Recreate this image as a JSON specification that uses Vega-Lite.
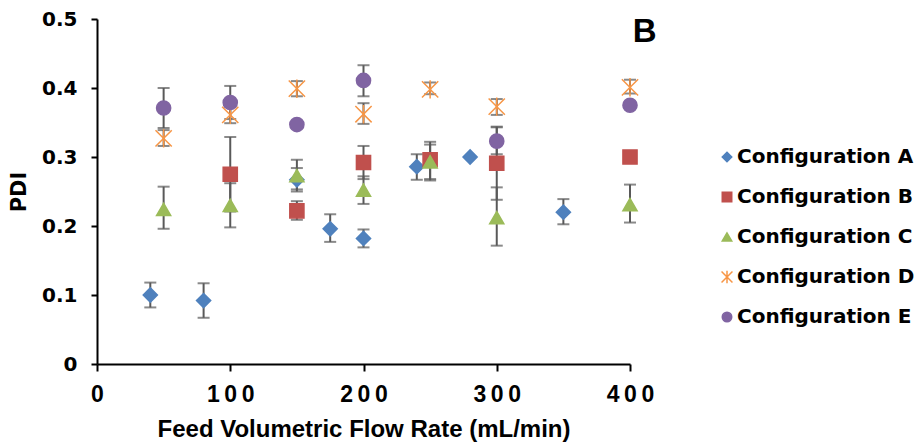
{
  "$schema": "https://vega.github.io/schema/vega-lite/v6.json",
  "autosize": "none",
  "width": 533,
  "height": 345,
  "padding": {"left": 97, "top": 19, "right": 294, "bottom": 84},
  "background": "white",
  "config": {
    "view": {"stroke": null},
    "font": "DejaVu Sans",
    "axis": {
      "grid": false,
      "labelFlush": false,
      "labelOverlap": false,
      "domainColor": "black",
      "domainWidth": 2,
      "tickColor": "black",
      "tickWidth": 2,
      "labelFont": "DejaVu Sans",
      "labelFontWeight": "bold",
      "labelFontSize": 20,
      "labelColor": "black",
      "titleFont": "DejaVu Sans",
      "titleFontWeight": "bold",
      "titleFontSize": 21,
      "titleColor": "black"
    },
    "legend": {
      "labelFont": "DejaVu Sans",
      "labelFontWeight": "bold",
      "labelFontSize": 20,
      "labelColor": "black",
      "labelLimit": 0
    }
  },
  "datasets": {
    "points": [
      {"series": "Configuration A", "x": 40, "y": 0.100},
      {"series": "Configuration A", "x": 80, "y": 0.092},
      {"series": "Configuration A", "x": 150, "y": 0.267},
      {"series": "Configuration A", "x": 175, "y": 0.196},
      {"series": "Configuration A", "x": 200, "y": 0.182},
      {"series": "Configuration A", "x": 240, "y": 0.286},
      {"series": "Configuration A", "x": 280, "y": 0.300},
      {"series": "Configuration A", "x": 350, "y": 0.220},
      {"series": "Configuration B", "x": 100, "y": 0.275},
      {"series": "Configuration B", "x": 150, "y": 0.222},
      {"series": "Configuration B", "x": 200, "y": 0.292},
      {"series": "Configuration B", "x": 250, "y": 0.296},
      {"series": "Configuration B", "x": 300, "y": 0.291},
      {"series": "Configuration B", "x": 400, "y": 0.300},
      {"series": "Configuration C", "x": 50, "y": 0.224},
      {"series": "Configuration C", "x": 100, "y": 0.230},
      {"series": "Configuration C", "x": 150, "y": 0.273},
      {"series": "Configuration C", "x": 200, "y": 0.252},
      {"series": "Configuration C", "x": 250, "y": 0.293},
      {"series": "Configuration C", "x": 300, "y": 0.212},
      {"series": "Configuration C", "x": 400, "y": 0.231},
      {"series": "Configuration D", "x": 50, "y": 0.327},
      {"series": "Configuration D", "x": 100, "y": 0.361},
      {"series": "Configuration D", "x": 150, "y": 0.399},
      {"series": "Configuration D", "x": 200, "y": 0.362},
      {"series": "Configuration D", "x": 250, "y": 0.398},
      {"series": "Configuration D", "x": 300, "y": 0.373},
      {"series": "Configuration D", "x": 400, "y": 0.401},
      {"series": "Configuration E", "x": 50, "y": 0.371},
      {"series": "Configuration E", "x": 100, "y": 0.379},
      {"series": "Configuration E", "x": 150, "y": 0.347},
      {"series": "Configuration E", "x": 200, "y": 0.411},
      {"series": "Configuration E", "x": 300, "y": 0.323},
      {"series": "Configuration E", "x": 400, "y": 0.375}
    ],
    "errors": [
      {"series": "Configuration A", "x": 40, "lo": 0.082, "hi": 0.118},
      {"series": "Configuration A", "x": 80, "lo": 0.067, "hi": 0.117},
      {"series": "Configuration A", "x": 150, "lo": 0.250, "hi": 0.284},
      {"series": "Configuration A", "x": 175, "lo": 0.177, "hi": 0.217},
      {"series": "Configuration A", "x": 200, "lo": 0.169, "hi": 0.195},
      {"series": "Configuration A", "x": 240, "lo": 0.267, "hi": 0.304},
      {"series": "Configuration A", "x": 350, "lo": 0.2025, "hi": 0.239},
      {"series": "Configuration B", "x": 100, "lo": 0.221, "hi": 0.329},
      {"series": "Configuration B", "x": 150, "lo": 0.209, "hi": 0.236},
      {"series": "Configuration B", "x": 200, "lo": 0.268, "hi": 0.316},
      {"series": "Configuration B", "x": 250, "lo": 0.266, "hi": 0.322},
      {"series": "Configuration B", "x": 300, "lo": 0.238, "hi": 0.344},
      {"series": "Configuration C", "x": 50, "lo": 0.196, "hi": 0.257},
      {"series": "Configuration C", "x": 100, "lo": 0.198, "hi": 0.262},
      {"series": "Configuration C", "x": 150, "lo": 0.253, "hi": 0.296},
      {"series": "Configuration C", "x": 200, "lo": 0.232, "hi": 0.272},
      {"series": "Configuration C", "x": 250, "lo": 0.268, "hi": 0.318},
      {"series": "Configuration C", "x": 300, "lo": 0.1715, "hi": 0.256},
      {"series": "Configuration C", "x": 400, "lo": 0.205, "hi": 0.260},
      {"series": "Configuration D", "x": 50, "lo": 0.316, "hi": 0.339},
      {"series": "Configuration D", "x": 100, "lo": 0.349, "hi": 0.373},
      {"series": "Configuration D", "x": 150, "lo": 0.388, "hi": 0.410},
      {"series": "Configuration D", "x": 200, "lo": 0.348, "hi": 0.378},
      {"series": "Configuration D", "x": 250, "lo": 0.391, "hi": 0.408},
      {"series": "Configuration D", "x": 300, "lo": 0.361, "hi": 0.384},
      {"series": "Configuration D", "x": 400, "lo": 0.392, "hi": 0.412},
      {"series": "Configuration E", "x": 50, "lo": 0.342, "hi": 0.400},
      {"series": "Configuration E", "x": 100, "lo": 0.355, "hi": 0.403},
      {"series": "Configuration E", "x": 200, "lo": 0.388, "hi": 0.433},
      {"series": "Configuration E", "x": 300, "lo": 0.304, "hi": 0.343}
    ],
    "panel": [
      {"label": "B", "x": 411, "y": 0.481}
    ]
  },
  "layer": [
    {
      "data": {"name": "errors"},
      "mark": {
        "type": "errorbar",
        "ticks": {"size": 12, "color": "#595959", "thickness": 2},
        "rule": {"color": "#595959", "strokeWidth": 2}
      },
      "encoding": {
        "x": {"field": "x", "type": "quantitative", "title": "Feed Volumetric Flow Rate (mL/min)", "scale": {"domain": [0, 400], "nice": false}},
        "y": {"field": "lo", "type": "quantitative", "title": "PDI", "scale": {"domain": [0, 0.5], "nice": false}},
        "y2": {"field": "hi"}
      }
    },
    {
      "data": {"name": "points"},
      "mark": {"type": "point", "filled": true, "opacity": 1, "strokeWidth": 1.5, "size": 200},
      "encoding": {
        "x": {
          "field": "x", "type": "quantitative",
          "title": "Feed Volumetric Flow Rate (mL/min)",
          "scale": {"domain": [0, 400], "nice": false},
          "axis": {
            "values": [0, 100, 200, 300, 400],
            "tickSize": 7,
            "labelFont": "Liberation Sans",
            "labelFontSize": 23,
            "labelPadding": 12,
            "labelExpr": "join(split(datum.label, ''), '\u2009')",
            "titleFont": "Liberation Sans",
            "titleFontSize": 24,
            "titlePadding": 11
          }
        },
        "y": {
          "field": "y", "type": "quantitative",
          "title": "PDI",
          "scale": {"domain": [0, 0.5], "nice": false},
          "axis": {
            "values": [0, 0.1, 0.2, 0.3, 0.4, 0.5],
            "format": ".1~f",
            "tickSize": 6,
            "labelPadding": 14,
            "titlePadding": 12
          }
        },
        "color": {
          "field": "series", "type": "nominal",
          "scale": {
            "domain": ["Configuration A", "Configuration B", "Configuration C", "Configuration D", "Configuration E"],
            "range": ["#4F81BD", "#C0504D", "#9BBB59", "#F79646", "#8064A2"]
          },
          "legend": {
            "title": null,
            "orient": "none",
            "legendX": 620,
            "legendY": 128,
            "symbolSize": 90,
            "symbolStrokeWidth": 1.5,
            "rowPadding": 20,
            "labelOffset": 0
          }
        },
        "stroke": {
          "field": "series", "type": "nominal",
          "scale": {
            "domain": ["Configuration A", "Configuration B", "Configuration C", "Configuration D", "Configuration E"],
            "range": ["#4F81BD", "#C0504D", "#9BBB59", "#F79646", "#8064A2"]
          },
          "legend": {
            "title": null,
            "orient": "none",
            "legendX": 620,
            "legendY": 128,
            "symbolSize": 90,
            "symbolStrokeWidth": 1.5,
            "rowPadding": 20,
            "labelOffset": 0
          }
        },
        "shape": {
          "field": "series", "type": "nominal",
          "scale": {
            "domain": ["Configuration A", "Configuration B", "Configuration C", "Configuration D", "Configuration E"],
            "range": ["diamond", "square", "triangle-up", "M-1.15,-1.15L1.15,1.15M-1.15,1.15L1.15,-1.15M0,-1.3L0,1.3", "circle"]
          },
          "legend": {
            "title": null,
            "orient": "none",
            "legendX": 620,
            "legendY": 128,
            "symbolSize": 90,
            "symbolStrokeWidth": 1.5,
            "rowPadding": 20,
            "labelOffset": 0
          }
        }
      }
    },
    {
      "data": {"name": "panel"},
      "mark": {"type": "text", "font": "Liberation Sans", "fontWeight": "bold", "fontSize": 33, "color": "black", "align": "center", "baseline": "middle", "clip": false},
      "encoding": {
        "x": {"field": "x", "type": "quantitative"},
        "y": {"field": "y", "type": "quantitative"},
        "text": {"field": "label"}
      }
    }
  ]
}
